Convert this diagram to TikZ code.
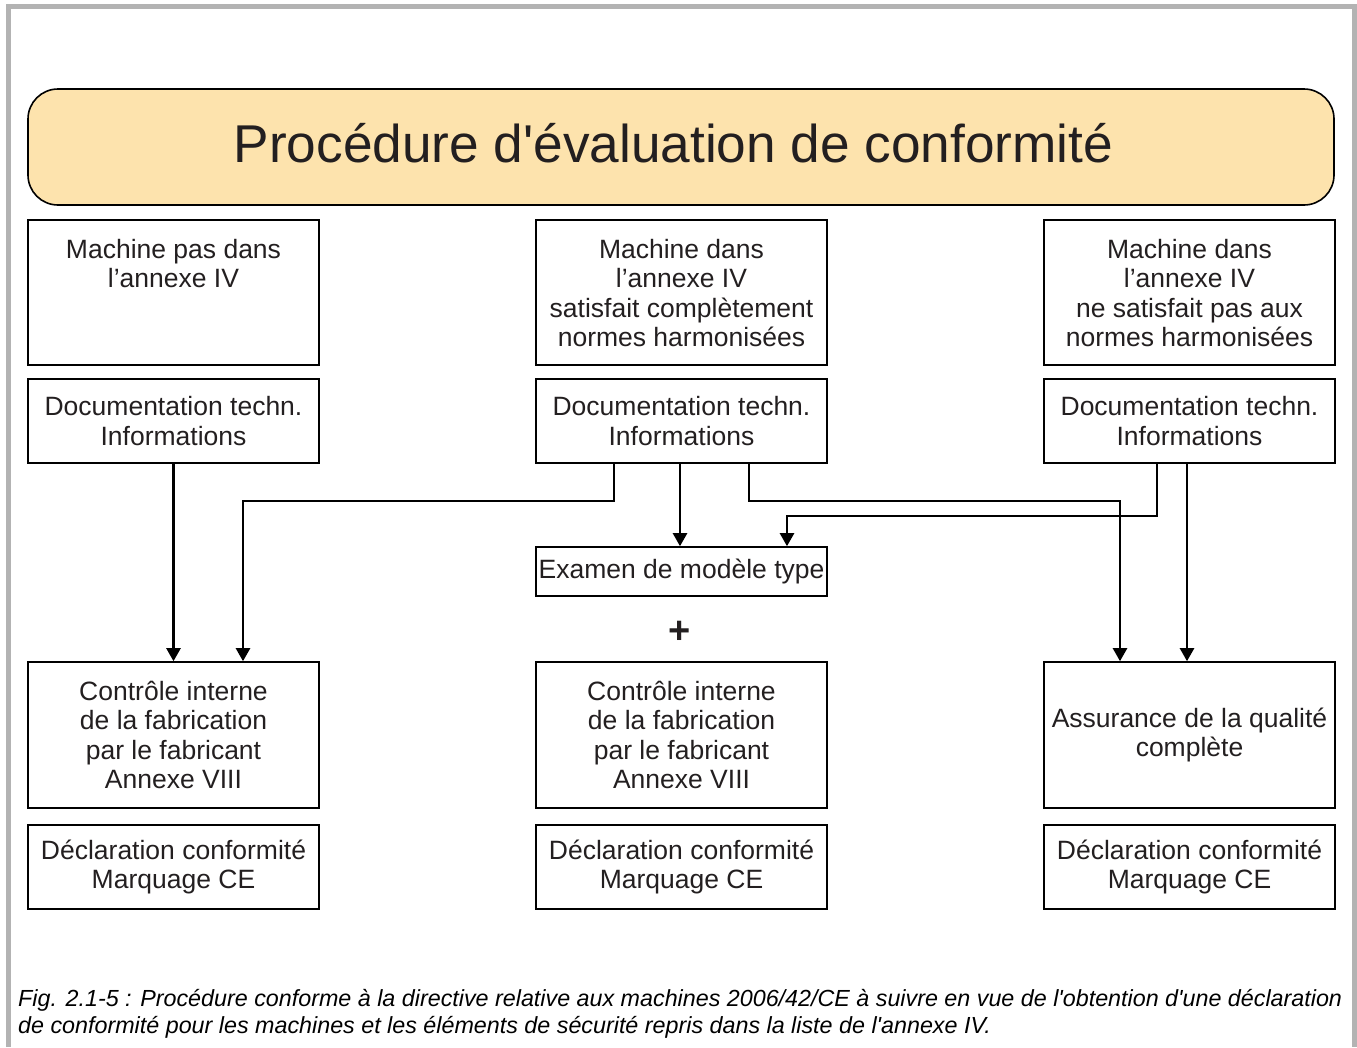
\documentclass[tikz,border=0pt]{standalone}
\usepackage{fontspec}
\setmainfont{Liberation Sans}
\usetikzlibrary{arrows.meta}
\definecolor{titlefill}{HTML}{FDE3AD}
\definecolor{framegray}{HTML}{B3B3B3}
\definecolor{txt}{HTML}{231F20}
% text block pinned to the top of a fixed-height box
\newcommand\toplines[1]{\parbox[c][110pt][t]{289pt}{\centering\strut #1}}
\begin{document}
\begin{tikzpicture}[x=1pt,y=-1pt,
  box/.style={draw=black,line width=1.6pt,minimum width=291pt,inner sep=0pt,
    align=center,text=txt,font=\fontsize{26.5}{29.5}\selectfont},
  titlebox/.style={draw=black,line width=1.6pt,fill=titlefill,rounded corners=30pt,
    minimum width=1306pt,minimum height=116pt,inner sep=0pt},
  titletext/.style={inner sep=0pt,text=txt,font=\fontsize{53.2}{60}\selectfont},
  arr/.style={line width=2.4pt,-{Triangle[length=13pt,width=14pt]}},
  frame/.style={draw=framegray,line width=5pt},
]
\useasboundingbox (0,0) rectangle (1357,1047);

% outer frame, open at the bottom
\draw[frame] (8.5,1047) -- (8.5,6.5) -- (1354.5,6.5) -- (1354.5,1047);

% heading
\node[titlebox] (titleframe) at (681,147) {};
\node[titletext,anchor=base] (title) at (673.5,162) {Procédure d\textquotesingle évaluation de conformité};

% first row: kind of machine
\node[box,minimum height=145pt] (m1) at (173.5,292.5) {\toplines{Machine pas dans\\ l’annexe IV}};
\node[box,minimum height=145pt] (m2) at (681.5,292.5) {\toplines{Machine dans\\ l’annexe IV\\ satisfait complètement\\ normes harmonisées}};
\node[box,minimum height=145pt] (m3) at (1189.5,292.5) {\toplines{Machine dans\\ l’annexe IV\\ ne satisfait pas aux\\ normes harmonisées}};

% second row: technical documentation
\node[box,minimum height=84pt] (d1) at (173.5,421) {Documentation techn.\\ Informations};
\node[box,minimum height=84pt] (d2) at (681.5,421) {Documentation techn.\\ Informations};
\node[box,minimum height=84pt] (d3) at (1189.5,421) {Documentation techn.\\ Informations};

% type examination
\node[box,minimum height=49pt] (ex) at (681.5,571.5) {Examen de modèle type};
\node[text=txt,inner sep=0pt,font=\bfseries\fontsize{38}{38}\selectfont] (plus) at (680,632) {+};

% third row: procedures
\node[box,minimum height=146pt] (c1) at (173.5,735) {Contrôle interne\\ de la fabrication\\ par le fabricant\\ Annexe VIII};
\node[box,minimum height=146pt] (c2) at (681.5,735) {Contrôle interne\\ de la fabrication\\ par le fabricant\\ Annexe VIII};
\node[box,minimum height=146pt] (c3) at (1189.5,735) {Assurance de la qualité\\ complète};

% fourth row: declaration
\node[box,minimum height=84pt] (e1) at (173.5,867) {Déclaration conformité\\ Marquage CE};
\node[box,minimum height=84pt] (e2) at (681.5,867) {Déclaration conformité\\ Marquage CE};
\node[box,minimum height=84pt] (e3) at (1189.5,867) {Déclaration conformité\\ Marquage CE};

% connectors
\draw[arr] (d1.south) -- (c1.north);
\draw[arr] ([xshift=-67.5]d2.south) -- ++(0,37) -| ([xshift=69.5]c1.north);
\draw[arr] ([xshift=-1.5]d2.south) -- ([xshift=-1.5]ex.north);
\draw[arr] ([xshift=67.5]d2.south) -- ++(0,37) -| ([xshift=-69.5]c3.north);
\draw[arr] ([xshift=-32.5]d3.south) -- ++(0,52) -| ([xshift=105.5]ex.north);
\draw[arr] ([xshift=-2.5]d3.south) -- ([xshift=-2.5]c3.north);

% caption (base anchor sits on the last line)
\node[anchor=base west,align=left,inner sep=0pt,text=black,
  font=\itshape\fontsize{23.3}{27}\selectfont] (caption) at (18,1033)
  {Fig. 2.1-5 : Procédure conforme à la directive relative aux machines 2006/42/CE à suivre en vue de l\textquotesingle obtention d\textquotesingle une déclaration\\
   de conformité pour les machines et les éléments de sécurité repris dans la liste de l\textquotesingle annexe IV.};
\end{tikzpicture}
\end{document}
